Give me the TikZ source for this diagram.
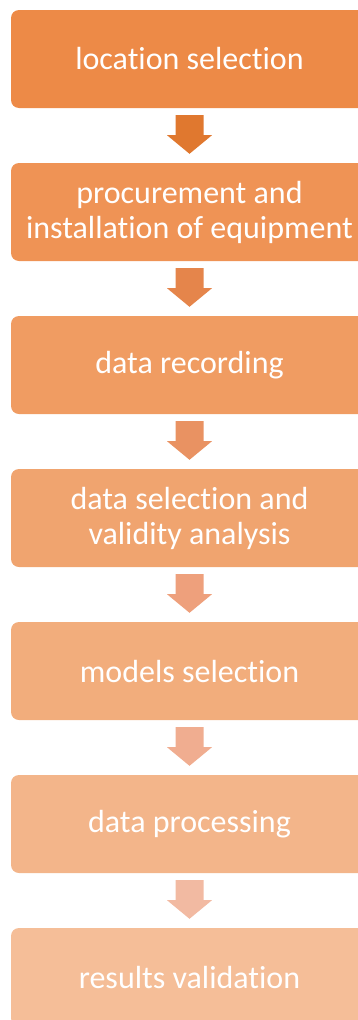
\documentclass[tikz,border=0pt]{standalone}
\usepackage{fontspec}
\setmainfont{Carlito}[Ligatures={NoCommon}]
\usetikzlibrary{calc}

\definecolor{box1}{HTML}{ED8A47}
\definecolor{box2}{HTML}{EF9355}
\definecolor{box3}{HTML}{F09C62}
\definecolor{box4}{HTML}{F0A46F}
\definecolor{box5}{HTML}{F2AD7C}
\definecolor{box6}{HTML}{F3B58A}
\definecolor{box7}{HTML}{F5BE98}
\definecolor{arr1}{HTML}{E0782F}
\definecolor{arr2}{HTML}{E5854B}
\definecolor{arr3}{HTML}{E99262}
\definecolor{arr4}{HTML}{EEA07C}
\definecolor{arr5}{HTML}{F0AD90}
\definecolor{arr6}{HTML}{F2BAA2}
\definecolor{arr7}{HTML}{F5CDBF}

\tikzset{
  stepbox/.style={rectangle, rounded corners=8pt, minimum width=357pt,
    minimum height=98pt, text=white, align=center, inner sep=0pt,
    font=\fontsize{32}{35}\selectfont}
}

\begin{document}
\begin{tikzpicture}[x=1pt,y=1pt]
    \useasboundingbox (0,0) rectangle (358,-1020);

    \begin{scope}
      % the seven stages
      \node [stepbox, fill=box1] (b1) at (189.5,-59)  {location selection};
      \node [stepbox, fill=box2] (b2) at (189.5,-212) {procurement and\\installation of equipment};
      \node [stepbox, fill=box3] (b3) at (189.5,-365) {data recording};
      \node [stepbox, fill=box4] (b4) at (189.5,-518) {data selection and\\validity analysis};
      \node [stepbox, fill=box5] (b5) at (189.5,-671) {models selection};
      \node [stepbox, fill=box6] (b6) at (189.5,-824) {data processing};
      \node [stepbox, fill=box7] (b7) at (189.5,-977) {results validation};

      % block arrows between them
      \foreach \i [evaluate=\i as \j using int(\i+1)] in {1,...,6}{
        \coordinate (s\i) at ($(b\i.south)+(0,-7)$);
        \coordinate (t\i) at ($(b\j.north)+(0,9)$);
        \fill [color=arr\i] (s\i) ++(-14,0) -- ++(28,0) -- ++(0,-20)
          -- ++(8.5,0) -- (t\i) -- ($(s\i)+(-22.5,-20)$) -- ++(8.5,0) -- cycle;
      }
    \end{scope}
  \end{tikzpicture}
\end{document}
